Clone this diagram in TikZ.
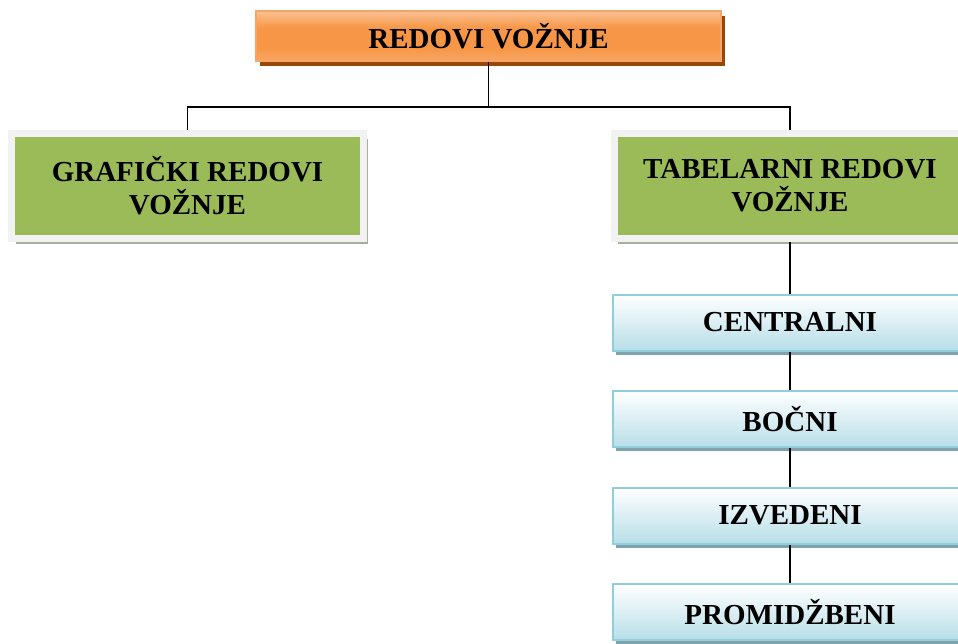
\documentclass[tikz,border=0pt]{standalone}
\usepackage{fontspec}
\setmainfont{Liberation Serif}
\usetikzlibrary{shadows}
\definecolor{orangetop}{HTML}{FAC193}
\definecolor{orangemid}{HTML}{F79646}
\definecolor{orangebot}{HTML}{F8A766}
\definecolor{orangeline}{HTML}{F9A466}
\definecolor{orangeshade}{HTML}{984807}
\definecolor{greenfill}{HTML}{9BBB59}
\definecolor{greyframe}{HTML}{F2F2F2}
\definecolor{greenshade}{HTML}{A6AF98}
\definecolor{bluebot}{HTML}{B7DEE8}
\definecolor{blueline}{HTML}{92CDDC}
\definecolor{blueshade}{HTML}{7FA3AB}
\pgfdeclareverticalshading{orangeshading}{100bp}{color(0bp)=(orangebot);
  color(25bp)=(orangebot); color(38bp)=(orangemid); color(58bp)=(orangemid);
  color(75bp)=(orangetop); color(100bp)=(orangetop)}
\tikzset{
  treenode/.style = {align=center, inner sep=0pt, text centered,
    font=\fontsize{29}{33}\selectfont\bfseries},
  topbox/.style = {treenode, draw=orangeline, line width=2pt,
    shading=orangeshading,
    minimum width=465pt, minimum height=50pt,
    drop shadow={shadow xshift=4pt, shadow yshift=-5pt, fill=orangeshade, opacity=1}},
  greenbox/.style = {treenode, draw=greyframe, line width=7pt, fill=greenfill,
    minimum width=352pt, minimum height=105pt,
    drop shadow={shadow xshift=4pt, shadow yshift=-5pt, fill=greenshade, opacity=1}},
  bluebox/.style = {treenode, draw=blueline, line width=2pt,
    top color=white, bottom color=bluebot,
    minimum width=354pt, minimum height=56pt,
    drop shadow={shadow xshift=3pt, shadow yshift=-4pt, fill=blueshade, opacity=1}},
  link/.style = {draw=black, line width=1.3pt}
}

\begin{document}
\begin{tikzpicture}[x=1pt, y=-1pt]
\useasboundingbox (0,0) rectangle (958,643);
% boxes, then the lines between them
\coordinate (fork) at (488.5,107);
\node [topbox] (redovi) at (488.5,36) {REDOVI VOŽNJE};
\node [greenbox] (graficki) at (187.5,186) {GRAFIČKI REDOVI\\VOŽNJE};
\node [greenbox] (tabelarni) at (790,186) {TABELARNI REDOVI\\VOŽNJE};
\node [bluebox] (centralni) at (790,322.5) {CENTRALNI};
\node [bluebox] (bocni) at (790,419) {BOČNI};
\node [bluebox] (izvedeni) at (790,515.5) {IZVEDENI};
\node [bluebox] (promidzbeni) at (790,612) {PROMIDŽBENI};
\draw [link] (redovi.south) -- (fork);
\draw [link] (fork) -| (graficki.north);
\draw [link] (fork) -| (tabelarni.north);
\draw [link] (tabelarni.south) -- (centralni.north);
\draw [link] (centralni.south) -- (bocni.north);
\draw [link] (bocni.south) -- (izvedeni.north);
\draw [link] (izvedeni.south) -- (promidzbeni.north);
\end{tikzpicture}
\end{document}
